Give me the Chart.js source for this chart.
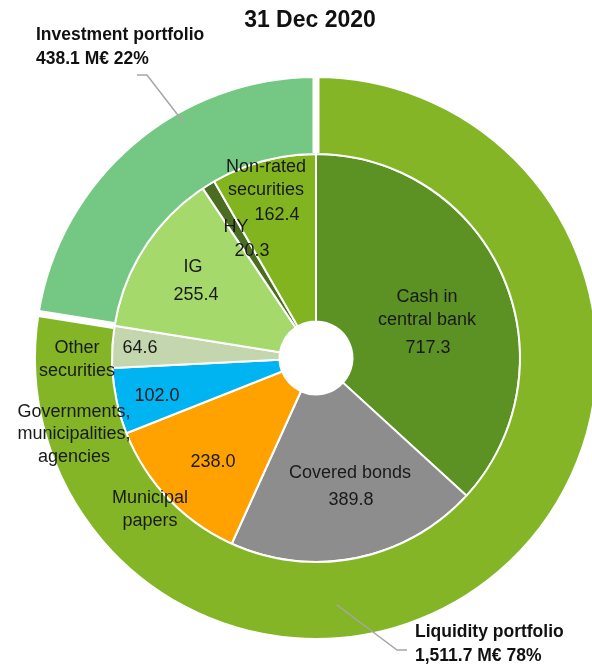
<!DOCTYPE html>
<html>
<head>
<meta charset="utf-8">
<script src="https://cdn.jsdelivr.net/npm/chart.js@4.4.1/dist/chart.umd.min.js"></script>
<style>
  html, body { margin: 0; padding: 0; background: #fff; overflow: hidden; }
  #wrap { width: 632px; height: 666px; }
</style>
</head>
<body>
<div id="wrap"><canvas id="pf" width="632" height="666"></canvas></div>
<script>
// portfolio totals, M€ (outer ring)
const portfolios = ['Liquidity portfolio', 'Investment portfolio'];
const portfolioValues = [1511.7, 438.1];
const portfolioColors = ['#83b526', '#75c784'];

// breakdown, M€ (inner pie), clockwise from 12 o'clock
const holdings = ['Cash in\ncentral bank', 'Covered bonds', 'Municipal\npapers',
  'Governments,\nmunicipalities,\nagencies', 'Other\nsecurities', 'IG', 'HY', 'Non-rated\nsecurities'];
const holdingValues = [717.3, 389.8, 238.0, 102.0, 64.6, 255.4, 20.3, 162.4];
const holdingColors = ['#5c9124', '#8d8d8d', '#ffa200', '#00b3f1', '#c3d6ad', '#a5d96b', '#4a6d22', '#82b420'];

const chartTitle = '31 Dec 2020';

// where the texts go, offsets from the pie centre
const nameSpots = [[111, -61], [34, 115], [-166, 140], [-242, 54], [-239, -10], [-123, -91], [-80, -131], [-50, -191]];
const valueSpots = [[112, -10], [35, 142], [-103, 104], [-159, 38], [-176, -10], [-120, -63], [-64, -107], [-39, -143]];
// callout text corner and leader line for each portfolio
const calloutText = [[99, 279], [-280, -318]];
const calloutLine = [
  [[21, 247], [81, 292], [91, 292]],
  [[-132, -235], [-169, -283], [-179, -283]]
];

const FONT = "'Liberation Sans', Arial, sans-serif";
const total = portfolioValues.reduce((a, b) => a + b, 0);

let fmt = v => v.toLocaleString('en-US', {minimumFractionDigits: 1, maximumFractionDigits: 1});

const decor = {
  id: 'decor',
  afterDatasetsDraw(chart) {
    const c = chart.ctx;
    const outer = chart.getDatasetMeta(0).data;
    const cx = outer[0].x, cy = outer[0].y;

    // wide white cuts between the two portfolio segments
    c.save();
    c.strokeStyle = '#fff';
    c.lineWidth = 7;
    outer.forEach(arc => {
      const a = arc.startAngle;
      c.beginPath();
      c.moveTo(cx + Math.cos(a) * (arc.innerRadius + 1), cy + Math.sin(a) * (arc.innerRadius + 1));
      c.lineTo(cx + Math.cos(a) * (arc.outerRadius + 3), cy + Math.sin(a) * (arc.outerRadius + 3));
      c.stroke();
    });
    c.restore();

    // slice texts
    c.save();
    c.fillStyle = '#1a1a1a';
    c.textAlign = 'center';
    c.textBaseline = 'middle';
    c.font = '18px ' + FONT;
    holdings.forEach((name, i) => {
      const lines = name.split('\n');
      const step = lines.length > 2 ? 22.5 : 23.5;
      lines.forEach((ln, k) => {
        c.fillText(ln, cx + nameSpots[i][0], cy + nameSpots[i][1] + k * step);
      });
      c.fillText(fmt(holdingValues[i]), cx + valueSpots[i][0], cy + valueSpots[i][1]);
    });
    c.restore();

    // callouts
    c.save();
    c.strokeStyle = '#a6a6a6';
    c.lineWidth = 1.5;
    calloutLine.forEach(pts => {
      c.beginPath();
      pts.forEach((p, k) => k ? c.lineTo(cx + p[0], cy + p[1]) : c.moveTo(cx + p[0], cy + p[1]));
      c.stroke();
    });
    c.fillStyle = '#111';
    c.textAlign = 'left';
    c.textBaseline = 'alphabetic';
    c.font = 'bold 17.5px ' + FONT;
    portfolios.forEach((p, i) => {
      const pct = Math.round(portfolioValues[i] / total * 100);
      const x = cx + calloutText[i][0], y = cy + calloutText[i][1];
      c.fillText(p, x, y);
      c.fillText(fmt(portfolioValues[i]) + ' M€ ' + pct + '%', x, y + 24);
    });

    c.textAlign = 'center';
    c.textBaseline = 'middle';
    c.font = 'bold 23px ' + FONT;
    c.fillText(chartTitle, cx - 6, 21);
    c.restore();
  }
};

let ctx = document.getElementById('pf');
new Chart(ctx, {
  type: 'doughnut',
  data: {
    labels: holdings,
    datasets: [{
      data: portfolioValues,
      backgroundColor: portfolioColors,
      borderColor: '#fff',
      borderWidth: 2,
      weight: 77
    }, {
      data: holdingValues,
      backgroundColor: holdingColors,
      borderColor: '#fff',
      borderWidth: 2,
      weight: 167.5
    }]
  },
  options: {
    responsive: false,
    devicePixelRatio: 1,
    animation: false,
    cutout: 36.5,
    hoverOffset: 0,
    layout: { padding: { left: 34, right: 34, top: 76, bottom: 26 } },
    plugins: {
      legend: { display: false },
      tooltip: { enabled: false }
    }
  },
  plugins: [decor]
});
</script>
</body>
</html>
